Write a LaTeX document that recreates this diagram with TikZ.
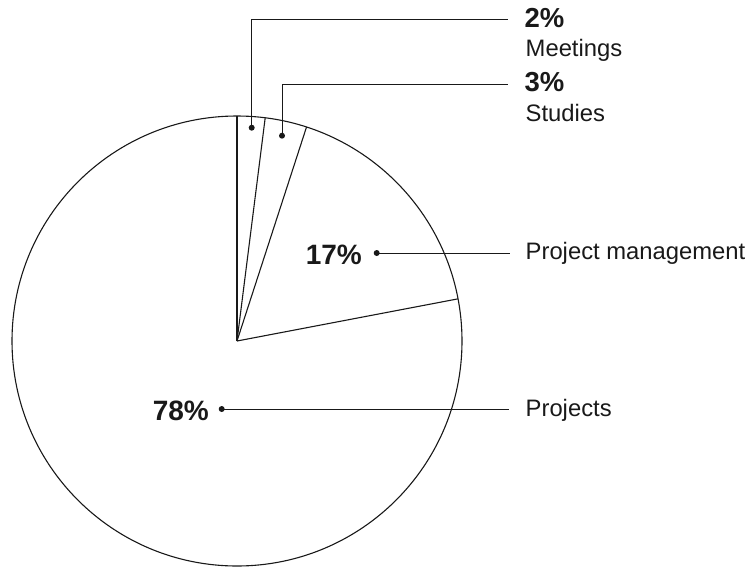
\documentclass[tikz,border=0pt]{standalone}
\usepackage{fontspec}
\setmainfont{Liberation Sans}
\begin{document}
\begin{tikzpicture}[x=1pt,y=-1pt,
  pie/.style={line width=1.1pt,black!90},
  leader/.style={line width=0.9pt,black!90},
  dotmark/.style={circle,fill=black!90,inner sep=0pt,minimum size=6pt},
  lbl/.style={inner sep=0pt,anchor=base west,font=\fontsize{23.8}{28}\selectfont,text=black!90},
  pctsmall/.style={inner sep=0pt,anchor=base west,font=\fontsize{27.5}{32}\selectfont\bfseries,text=black!90},
  pctbig/.style={inner sep=0pt,anchor=base east,font=\fontsize{28}{32}\selectfont\bfseries,text=black!90}]
\useasboundingbox (0,0) rectangle (752,568);
% pie
\coordinate (c) at (237,341);
\draw[pie] (c) circle (225);
\draw[pie] (c) -- ++(-90:225);
\draw[pie] (c) -- ++(-82.8:225);
\draw[pie] (c) -- ++(-72:225);
\draw[pie] (c) -- ++(-10.8:225);
% dots
\node[dotmark] (d1) at (251.7,127.7) {};
\node[dotmark] (d2) at (282,135.7) {};
\node[dotmark] (d3) at (376.7,253) {};
\node[dotmark] (d4) at (221.7,409) {};
% line ends
\coordinate (e1) at (508,19);
\coordinate (e2) at (508,84);
\coordinate (e3) at (510,253);
\coordinate (e4) at (509,409);
\draw[leader] (d1.center) |- (e1);
\draw[leader] (d2.center) |- (e2);
\draw[leader] (d3.center) -- (e3);
\draw[leader] (d4.center) -- (e4);
% labels
\node[pctsmall] (p1) at (524.5,27.3) {2\%};
\node[lbl] (t1) at (525.5,56.5) {Meetings};
\node[pctsmall] (p2) at (524.5,91.7) {3\%};
\node[lbl] (t2) at (525.5,121.7) {Studies};
\node[lbl] (t3) at (525.5,259) {Project management};
\node[lbl] (t4) at (525.5,416) {Projects};
\node[pctbig] (p3) at (362,264) {17\%};
\node[pctbig] (p4) at (209,420) {78\%};
\end{tikzpicture}
\end{document}
